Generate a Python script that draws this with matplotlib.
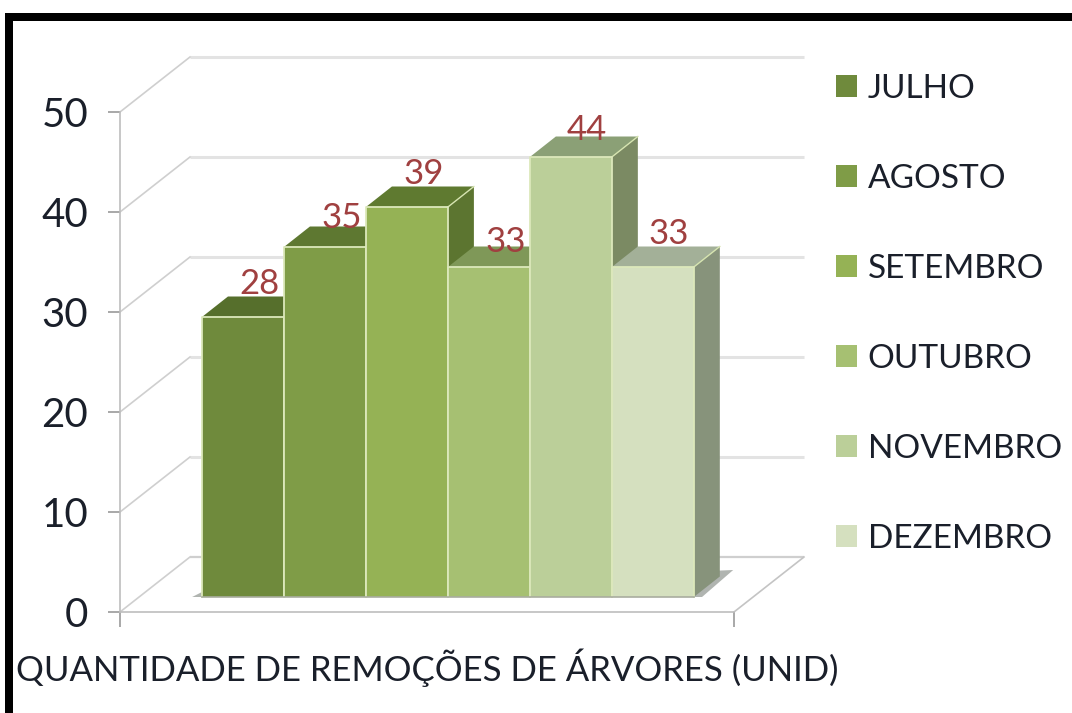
import matplotlib
matplotlib.use("Agg")
import matplotlib.pyplot as plt
from matplotlib.patches import Polygon, Rectangle

plt.rcParams['font.family'] = ['Lato', 'DejaVu Sans']

months = ["JULHO", "AGOSTO", "SETEMBRO", "OUTUBRO", "NOVEMBRO", "DEZEMBRO"]
values = [28, 35, 39, 33, 44, 33]
front_colors = ["#6f8a3c", "#7f9c47", "#95b255", "#a6c072", "#bbcf99", "#d5e0bf"]
top_colors = ["#566f2c", "#5e7831", "#5f7a30", "#7f9858", "#8ba076", "#a3b098"]
side_colors = ["#566f2c", "#5e7831", "#5c7530", "#6e8350", "#7b8a63", "#87937b"]
label_nudge = [0.3, -0.1, 0.2, -0.5, -0.4, 0.3]
yticks = [0, 10, 20, 30, 40, 50]
xlabel = "QUANTIDADE DE REMOÇÕES DE ÁRVORES (UNID)"
label_color = "#a04040"
text_color = "#1a1f2a"

W, H = 1072, 713
fig = plt.figure(figsize=(W / 100, H / 100), dpi=100, facecolor="white")

# plot box in pixels: left wall x=120, floor y=612, top y=112, right x=734
left, right, bottom, top = 120, 734, 612, 112
ax = fig.add_axes([left / W, 1 - bottom / H, (right - left) / W, (bottom - top) / H])
ax.set_xlim(-1, 6.49)
ax.set_ylim(0, 50)
ax.patch.set_alpha(0)

# depth of the chart box and of each bar, in data units
wall_dx, wall_dy = 70 / 82, 5.5
bar_dx, bar_dy = 26 / 82, 2.05
floor_y = 1.5

# 3D wall gridlines
for v in yticks:
    grid_c = "#e3e3e3" if v else "#cfcfcf"
    ax.plot([-1 + wall_dx, 6.49 + wall_dx], [v + wall_dy] * 2, color=grid_c,
            lw=2.2 if v else 1.6, clip_on=False, zorder=1, solid_capstyle="butt")
    ax.plot([-1, -1 + wall_dx], [v, v + wall_dy], color="#cfcfcf", lw=1.2,
            clip_on=False, zorder=1)
ax.plot([6.49, 6.49 + wall_dx], [0, wall_dy], color="#c4c4c4", lw=1.2, clip_on=False, zorder=1)

# floor shadow
n = len(values)
ax.add_patch(Polygon([(-0.12, floor_y), (0.0, floor_y + 0.5), (n + 0.48, floor_y + 2.7),
                      (n + 0.1, floor_y)],
                     closed=True, fc="#b0b4b0", ec="none", clip_on=False, zorder=2))

# bars: drawn left-to-right
for i, v in enumerate(values):
    y0, y1 = floor_y, floor_y + v
    ax.add_patch(Polygon([(i + 1, y0), (i + 1 + bar_dx, y0 + bar_dy),
                          (i + 1 + bar_dx, y1 + bar_dy), (i + 1, y1)], closed=True,
                         fc=side_colors[i], ec="none", clip_on=False, zorder=3 + i * 0.1))
    ax.add_patch(Polygon([(i, y1), (i + bar_dx, y1 + bar_dy), (i + 1 + bar_dx, y1 + bar_dy),
                          (i + 1, y1)], closed=True,
                         fc=top_colors[i], ec="none", clip_on=False, zorder=3 + i * 0.1))
    ax.plot([i + 1, i + 1 + bar_dx], [y1, y1 + bar_dy], color="#d6e4b0", lw=1,
            clip_on=False, zorder=3.01 + i * 0.1)
    ax.add_patch(Rectangle((i, y0), 1, v, fc=front_colors[i], ec="none",
                           clip_on=False, zorder=3.02 + i * 0.1))
    ax.plot([i, i, i + 1, i + 1], [y0, y1, y1, y0], color="#dce8bb", lw=1.3,
            clip_on=False, zorder=3.03 + i * 0.1)
    ax.text(i + 0.7, y1 + bar_dy + label_nudge[i], str(v), color=label_color, fontsize=25,
            ha="center", va="baseline", zorder=6, clip_on=False)
ax.plot([0, n], [floor_y, floor_y], color="#a9ad9f", lw=1.2, clip_on=False, zorder=4)

# axes
for s in ("top", "right"):
    ax.spines[s].set_visible(False)
for s in ("left", "bottom"):
    ax.spines[s].set_color("#bdbdbd")
    ax.spines[s].set_linewidth(1.2)
ax.set_yticks(yticks)
ax.set_yticklabels([str(v) for v in yticks], fontsize=29, color=text_color)
ax.tick_params(axis="y", length=9, width=1.2, color="#999999", pad=14)
ax.set_xticks([-1, 6.49])
ax.set_xticklabels(["", ""])
ax.tick_params(axis="x", length=11, width=1.2, color="#999999")
ax.set_xlabel(xlabel, fontsize=25, color=text_color)
ax.xaxis.set_label_coords((427.5 - left) / (right - left), -(681 - bottom) / (bottom - top))
ax.xaxis.label.set_verticalalignment("baseline")
ax.xaxis.label.set_horizontalalignment("center")

# legend
handles = [Rectangle((0, 0), 1, 1, fc=c, ec="none") for c in front_colors]
fig.legend(handles, months, loc="upper left", bbox_to_anchor=(826 / W, 1 - 64 / H),
           frameon=False, fontsize=24, labelcolor=text_color,
           handlelength=0.62, handleheight=0.62, handletextpad=0.33,
           labelspacing=1.80, borderpad=0.3, borderaxespad=0)

# black frame
fig.add_artist(Rectangle((5 / W, 0), 8 / W, 1 - 13 / H, transform=fig.transFigure, fc="black", ec="none"))
fig.add_artist(Rectangle((5 / W, 1 - 21 / H), 1 - 5 / W, 8 / H, transform=fig.transFigure, fc="black", ec="none"))

fig.savefig("out.png", dpi=100)
